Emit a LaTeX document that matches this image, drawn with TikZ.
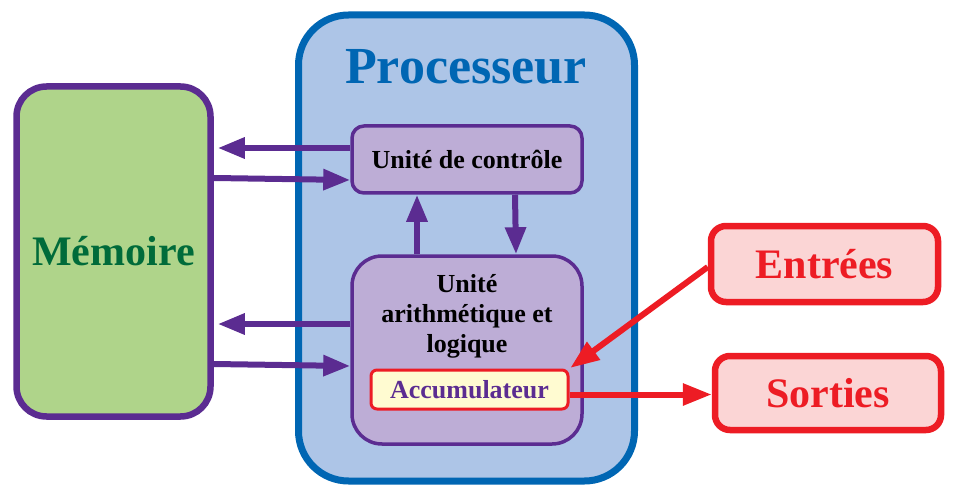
\documentclass[tikz,border=0pt]{standalone}
\usepackage{fontspec}
\setmainfont{Liberation Serif}
\usetikzlibrary{arrows.meta,calc}
\definecolor{pur}{HTML}{5B2C91}
\definecolor{lpur}{HTML}{BDADD6}
\definecolor{grn}{HTML}{AFD48A}
\definecolor{dgrn}{HTML}{006B3A}
\definecolor{blu}{HTML}{0066B3}
\definecolor{lblu}{HTML}{ADC5E7}
\definecolor{red1}{HTML}{ED1C24}
\definecolor{pink1}{HTML}{FBD5D5}
\definecolor{ylw}{HTML}{FFFBD1}
\tikzset{
  bigbox/.style={draw, rounded corners=#1, inner sep=0pt, font=\bfseries\fontsize{42}{48}\selectfont},
  unitbox/.style={draw=pur, fill=lpur, line width=3.5pt, inner sep=0pt, font=\bfseries\fontsize{26}{30}\selectfont},
  parr/.style={draw=pur, line width=6pt, -{Triangle[length=27pt,width=20pt]}},
  rarr/.style={draw=red1, line width=6pt, -{Triangle[length=29pt,width=21pt]}},
}
\begin{document}
\begin{tikzpicture}[x=1pt,y=-1pt]
\useasboundingbox (0,0) rectangle (959,500);
% Processeur
\node[bigbox=50pt, draw=blu, fill=lblu, line width=7pt, minimum width=336pt, minimum height=466pt] (proc) at (466.5,248) {};
\node[text=blu, font=\bfseries\fontsize{52}{58}\selectfont, anchor=base] (proct) at (466,84) {Processeur};
% Memoire
\node[bigbox=30pt, draw=pur, fill=grn, line width=6.5pt, minimum width=194pt, minimum height=330pt, text=dgrn] (mem) at (113.5,251.5) {Mémoire};
% Units
\node[unitbox, rounded corners=12pt, minimum width=230pt, minimum height=67pt] (uc) at (467,159.5) {Unité de contrôle};
\node[unitbox, rounded corners=30pt, minimum width=230pt, minimum height=188pt] (alu) at (467,350) {};
\node[font=\bfseries\fontsize{26}{30}\selectfont, align=center, anchor=base] (alut) at (467,352) {Unité\\arithmétique et\\logique};
\node[draw=red1, fill=ylw, line width=3pt, rounded corners=6pt, minimum width=197pt, minimum height=39pt, inner sep=0pt, text=pur, font=\bfseries\fontsize{26}{30}\selectfont] (acc) at (469.5,389.5) {Accumulateur};
% Entrees / Sorties
\node[bigbox=15pt, draw=red1, fill=pink1, line width=6.5pt, minimum width=227pt, minimum height=76pt, text=red1] (ent) at (824.5,264) {Entrées};
\node[bigbox=15pt, draw=red1, fill=pink1, line width=6.5pt, minimum width=226pt, minimum height=74pt, text=red1] (sor) at (828,393) {Sorties};
% purple arrows
\coordinate (a1) at ([yshift=11.5pt]uc.west);
\draw[parr, shorten >=4pt] (a1) -- (a1 -| mem.east);
\draw[parr] ([yshift=73.5pt]mem.east) -- ([yshift=-20.5pt]uc.west);
\coordinate (a3) at ([yshift=26pt]alu.west);
\draw[parr, shorten >=4pt] (a3) -- (a3 -| mem.east);
\draw[parr] ([yshift=-112.5pt]mem.east) -- ([yshift=-16pt]alu.west);
\draw[parr] ([xshift=-50pt]alu.north) -- ([xshift=-50pt]uc.south);
\draw[parr] ([xshift=48pt]uc.south) -- ([xshift=49pt]alu.north);
% red arrows
\draw[rarr, shorten >=1pt] ([yshift=-3pt]ent.west) -- (acc.north east);
\coordinate (a8) at ([yshift=-5pt]acc.east);
\draw[rarr] (a8) -- (a8 -| sor.west);
\end{tikzpicture}
\end{document}
